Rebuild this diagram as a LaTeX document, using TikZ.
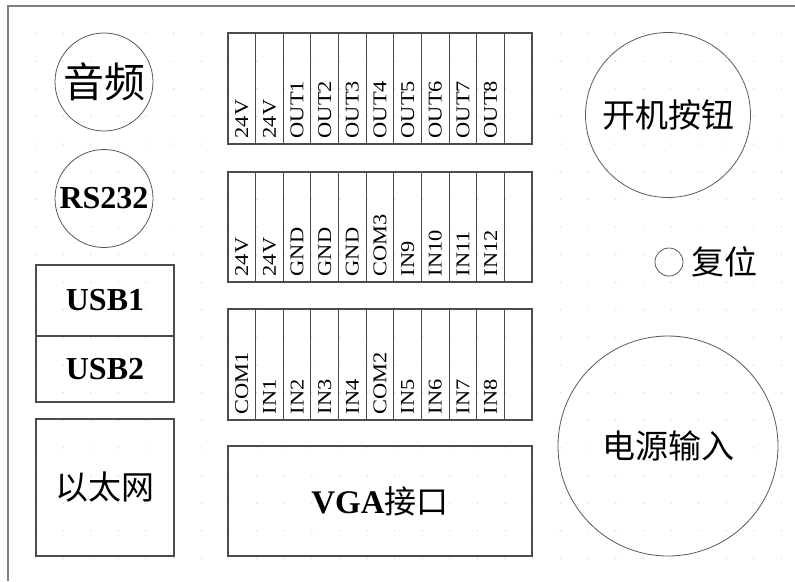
\documentclass[tikz,border=0pt]{standalone}
\usepackage{fontspec}
\setmainfont{Liberation Serif}
\newfontfamily\cjk{Noto Sans CJK SC}
\newfontfamily\termfont[FakeStretch=1.15]{Liberation Serif}
\usetikzlibrary{positioning}

\tikzset{
  port/.style={circle, draw=black!65, line width=0.8pt, inner sep=0pt},
  box/.style={rectangle, draw=black!70, line width=1.1pt, inner sep=0pt, outer sep=0pt},
  cell/.style={rectangle, draw=black!70, line width=1.1pt, inner sep=0pt, outer sep=0pt, minimum width=27.64pt},
  pin/.style={rotate=90, anchor=west, inner sep=0pt, font=\termfont\fontsize{19.5}{20}\selectfont},
  cn/.style={font=\cjk\fontsize{33}{38}\selectfont},
  en/.style={font=\bfseries\fontsize{32}{36}\selectfont},
}

\begin{document}
\begin{tikzpicture}[x=1pt, y=-1pt]
\useasboundingbox (0,0) rectangle (795,581);
% background grid dots
\foreach \gx in {1,...,28}
  \foreach \gy in {1,...,20}
    \fill[black!18] ({8+27.62*\gx},{6+27.62*\gy}) circle (0.7);
% frame
\draw[black!50, line width=2pt] (795,6) -- (8,6) -- (8,581);

% left column
\node[port, minimum size=98pt, font=\cjk\fontsize{41}{46}\selectfont] (audio) at (104,82) {音频};
\node[port, minimum size=98pt, en] (rs232) at (104,198.5) {RS232};
\node[box, minimum width=138pt, minimum height=71pt, en] (usb1) at (105,300.5) {USB1};
\node[box, minimum width=138pt, minimum height=66pt, en, below=0pt of usb1] (usb2) {USB2};
\node[box, minimum width=138pt, minimum height=137pt, cn] (eth) at (105,487.5) {以太网};

% terminal blocks
\foreach \r/\yt/\yb/\names in {
  out/33/144/{24V,24V,OUT1,OUT2,OUT3,OUT4,OUT5,OUT6,OUT7,OUT8},
  pwr/172/282/{24V,24V,GND,GND,GND,COM3,IN9,IN10,IN11,IN12},
  in/309/420/{COM1,IN1,IN2,IN3,IN4,COM2,IN5,IN6,IN7,IN8}}
{
  \foreach \i in {0,...,10}
    \node[cell, minimum height=\yb-\yt] (\r\i) at ({228+27.64*(\i+0.5)},{(\yt+\yb)/2}) {};
  \foreach \n [count=\i from 0] in \names
    \node[pin] (\r\i-t) at ([yshift=5.5pt]\r\i.south) {\n};
}

% VGA
\node[box, minimum width=304pt, minimum height=110pt] (vga) at (380,501)
  {{\bfseries\fontsize{33}{38}\selectfont VGA}{\cjk\fontsize{32}{38}\selectfont 接口}};

% right column
\node[port, minimum size=165pt, cn] (power) at (668,115) {开机按钮};
\node[port, minimum size=28pt] (reset) at (669,262) {};
\node[cn, inner sep=0pt, right=8pt of reset] (resetlbl) {复位};
\node[port, minimum size=220pt, cn] (pwrin) at (668,446) {电源输入};
\end{tikzpicture}
\end{document}
